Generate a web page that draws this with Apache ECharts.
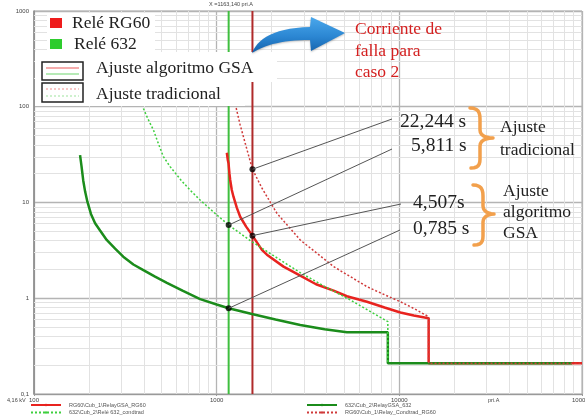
<!DOCTYPE html>
<html>
<head>
<meta charset="utf-8">
<script src="https://cdn.jsdelivr.net/npm/echarts@6/dist/echarts.min.js"></script>
<style>
html, body { margin: 0; padding: 0; background: #fff; }
#chart { width: 585px; height: 416px; }
</style>
</head>
<body>
<div id="chart"></div>
<script>
// Time-current coordination curves (pri.A vs seconds), log-log.

// Fault currents seen by each relay (pri.A)
const faultCurrent632 = 1163.14;
const faultCurrentRG60 = 1570;

// Relay RG60, GSA-tuned setting: [current pri.A, time s]
const rg60Gsa = [
  [1137, 33.1], [1150, 28], [1161, 25.7], [1175, 20], [1186, 17.2], [1210, 13.5],
  [1236, 11.5], [1290, 8.8], [1345, 7.1], [1450, 5.6], [1570, 4.507], [1769, 3.2],
  [1884, 2.85], [2323, 2.14], [2868, 1.72], [3500, 1.4], [4365, 1.2], [5164, 1.05],
  [6650, 0.92], [8300, 0.8], [10130, 0.71], [12000, 0.66], [14470, 0.617],
  [14470, 0.209], [100000, 0.209]
];

// Relay 632, GSA-tuned setting
const r632Gsa = [
  [178.7, 31.3], [182, 24], [186, 17], [190.5, 13], [196, 10.2], [205, 7.6],
  [216, 6.07], [230, 5.1], [250, 4.06], [278, 3.3], [308, 2.72], [350, 2.25],
  [397, 1.97], [460, 1.68], [534, 1.45], [650, 1.2], [812, 0.98], [1000, 0.86],
  [1163.14, 0.785], [1560, 0.685], [2100, 0.6], [2868, 0.526], [3900, 0.475],
  [5164, 0.441], [8650, 0.441], [8650, 0.209], [88300, 0.209]
];

// Relay 632, traditional setting
const r632Trad = [
  [397, 96], [420, 75], [451, 57], [480, 41], [511, 30.1], [556, 23.7], [640, 17],
  [720, 13.3], [812, 10.6], [980, 7.7], [1163.14, 5.811], [1527, 4.0], [2100, 2.7],
  [2868, 1.85], [3900, 1.33], [5389, 0.96], [7000, 0.72], [8650, 0.57], [8650, 0.209]
];

// Relay RG60, traditional setting
const rg60Trad = [
  [1279, 97], [1345, 64.5], [1432, 41.8], [1570, 22.244], [1774, 14], [2138, 7.71],
  [2500, 5.48], [2868, 4.06], [3600, 2.87], [4365, 2.14], [5400, 1.68], [6650, 1.32],
  [8200, 1.1], [10130, 0.92], [12200, 0.77], [14470, 0.641], [14470, 0.209], [100000, 0.209]
];

// Operating points marked on the curves
const markCurrents = [faultCurrentRG60, faultCurrent632, faultCurrentRG60, faultCurrent632];
const markTimes = [22.244, 5.811, 4.507, 0.785];
const markLabels = ['22,244 s', '5,811 s', '4,507s', '0,785 s'];

const seriesNames = [
  'RG60\\Cub_1\\RelayGSA_RG60',
  '632\\Cub_2\\RelayGSA_632',
  '632\\Cub_2\\Relé 632_condtrad',
  'RG60\\Cub_1\\Relay_Condtrad_RG60'
];

const serif = '"Liberation Serif", "Times New Roman", serif';
const sans = '"Liberation Sans", Arial, sans-serif';

function minorValues(from, to) {
  const out = [];
  for (let d = from; d < to; d *= 10) {
    for (let k = 2; k <= 9; k++) out.push(+(d * k).toPrecision(3));
  }
  return out;
}
const xMinor = minorValues(100, 100000);
const yMinor = minorValues(0.1, 1000);

const chart = echarts.init(document.getElementById('chart'), null, { renderer: 'canvas' });

const legendCommon = {
  padding: 0, itemGap: 0, itemWidth: 30, itemHeight: 3, selectedMode: false,
  textStyle: { fontSize: 5.5, color: '#555', fontFamily: sans, padding: [0, 0, 0, 3] }
};

const option = {
  animation: false,
  backgroundColor: '#fff',
  grid: {
    left: 34, right: 3, top: 11, bottom: 22, containLabel: false, outerBoundsMode: 'none',
    show: true, borderColor: '#aaa', borderWidth: 1, backgroundColor: '#fff'
  },
  xAxis: {
    type: 'log', logBase: 10, min: 100, max: 100000,
    axisLine: { show: true, lineStyle: { color: '#999', width: 1.2 } },
    axisTick: { show: true, length: 2, lineStyle: { color: '#999' } },
    axisLabel: { fontSize: 6, color: '#444', fontFamily: sans, margin: 3, formatter: v => String(v) },
    splitLine: { show: true, lineStyle: { color: '#b4b4b4', width: 1.3 } }
  },
  yAxis: {
    type: 'log', logBase: 10, min: 0.1, max: 1000,
    axisLine: { show: true, lineStyle: { color: '#888', width: 1.5 } },
    axisTick: { show: false },
    axisLabel: { fontSize: 6, color: '#444', fontFamily: sans, margin: 5, formatter: v => String(v).replace('.', ',') },
    splitLine: { show: true, lineStyle: { color: '#b4b4b4', width: 1.3 } }
  },
  legend: [
    Object.assign({ data: [seriesNames[0]], left: 30, top: 402 }, legendCommon),
    Object.assign({ data: [seriesNames[1]], left: 306, top: 402 }, legendCommon),
    Object.assign({ data: [seriesNames[2]], left: 30, top: 409.5 }, legendCommon),
    Object.assign({ data: [seriesNames[3]], left: 306, top: 409.5 }, legendCommon)
  ],
  series: [
    {
      // minor grid lines at 2..9 of each decade
      name: 'grid', type: 'line', data: [[100, 0.1]], symbol: 'none', silent: true, z: 1,
      lineStyle: { width: 0 },
      markLine: {
        silent: true, symbol: 'none', z: 1, animation: false,
        label: { show: false },
        lineStyle: { color: '#e2e2e2', width: 1, type: 'solid' },
        data: xMinor.map(v => ({ xAxis: v })).concat(yMinor.map(v => ({ yAxis: v })))
      }
    },
    {
      name: 'fault632', type: 'line', symbol: 'none', silent: true, z: 3,
      data: [[faultCurrent632, 0.1], [faultCurrent632, 1000]],
      lineStyle: { color: '#3fbf3f', width: 2 }
    },
    {
      name: 'faultRG60', type: 'line', symbol: 'none', silent: true, z: 3,
      data: [[faultCurrentRG60, 0.1], [faultCurrentRG60, 1000]],
      lineStyle: { color: '#b02a2a', width: 2 }
    },
    {
      name: seriesNames[0], type: 'line', symbol: 'none', z: 5, data: rg60Gsa,
      color: '#e8231f', lineStyle: { color: '#e8231f', width: 2.5 }
    },
    {
      name: seriesNames[1], type: 'line', symbol: 'none', z: 6, data: r632Gsa,
      color: '#1b8c1b', lineStyle: { color: '#1b8c1b', width: 2.5 }
    },
    {
      name: seriesNames[2], type: 'line', symbol: 'none', z: 7, data: r632Trad,
      color: '#3ecf3e', lineStyle: { color: '#3ecf3e', width: 1.5, type: [2, 2] }
    },
    {
      name: seriesNames[3], type: 'line', symbol: 'none', z: 7, data: rg60Trad,
      color: '#d03a3a', lineStyle: { color: '#d03a3a', width: 1.5, type: [2, 2] }
    },
    {
      name: 'marks', type: 'scatter', z: 10, symbolSize: 6, silent: true,
      itemStyle: { color: '#000' },
      data: markCurrents.map((c, i) => [c, markTimes[i]])
    }
  ]
};
chart.setOption(option);

// Annotations: relay key, fault-current arrow and value callouts
const Z = 100;
const g = [];
const rect = (x, y, w, h, style) => g.push({ type: 'rect', z: Z, shape: { x, y, width: w, height: h }, style });
const text = (t, x, y, font, fill, align) => g.push({
  type: 'text', z: Z + 1, x, y,
  style: { text: t, font, fill, textAlign: align || 'left', textVerticalAlign: 'middle' }
});
const line = (x1, y1, x2, y2, stroke, w, dash) => g.push({
  type: 'line', z: Z + 2, shape: { x1, y1, x2, y2 },
  style: { stroke, lineWidth: w, lineDash: dash || null }
});
// sample a cubic Bezier into points (start point excluded)
function bez(p0, p1, p2, p3, n) {
  const pts = [];
  for (let i = 1; i <= n; i++) {
    const t = i / n, u = 1 - t;
    pts.push([
      u * u * u * p0[0] + 3 * u * u * t * p1[0] + 3 * u * t * t * p2[0] + t * t * t * p3[0],
      u * u * u * p0[1] + 3 * u * u * t * p1[1] + 3 * u * t * t * p2[1] + t * t * t * p3[1]
    ]);
  }
  return pts;
}

// white panels behind the relay key
rect(47, 13, 108, 39, { fill: '#fff' });
rect(35, 52, 242, 30, { fill: '#fff' });
rect(35, 82, 210, 24, { fill: '#fff' });

rect(50, 18, 12, 10, { fill: '#ee1c1c' });
rect(50, 39, 12, 10, { fill: '#2ecc2e' });
text('Relé RG60', 72, 23.5, '17.5px ' + serif, '#222');
text('Relé 632', 74, 44.5, '17.5px ' + serif, '#222');

rect(42, 62, 41, 18, { fill: '#fff', stroke: '#222', lineWidth: 1.5 });
line(46, 68, 79, 68, '#f29090', 1.5);
line(46, 74, 79, 74, '#9ee39e', 1.5);
rect(42, 83, 41, 19, { fill: '#fff', stroke: '#222', lineWidth: 1.5 });
line(46, 89, 79, 89, '#f29090', 1.2, [2, 2]);
line(46, 96, 79, 96, '#9ee39e', 1.2, [2, 2]);
text('Ajuste algoritmo GSA', 96, 68.5, '17.5px ' + serif, '#222');
text('Ajuste tradicional', 96, 94, '17.5px ' + serif, '#222');

// fault current arrow
const arrowPts = [[252, 53]]
  .concat(bez([252, 53], [258, 38], [275, 28], [310, 27], 14))
  .concat([[311, 17], [345, 33], [311, 51], [310, 40]])
  .concat(bez([310, 40], [285, 40], [266, 44], [252, 53], 14));
g.push({
  type: 'polygon', z: Z, shape: { points: arrowPts },
  style: {
    fill: {
      type: 'linear', x: 0, y: 0, x2: 0, y2: 1,
      colorStops: [
        { offset: 0, color: '#4aa8ec' }, { offset: 0.55, color: '#2b86d2' }, { offset: 1, color: '#1461ab' }
      ]
    },
    shadowBlur: 2, shadowColor: 'rgba(0,0,0,0.25)', shadowOffsetY: 1
  }
});
text('Corriente de', 355, 29, '17.5px ' + serif, '#d42020');
text('falla para', 355, 51, '17.5px ' + serif, '#d42020');
text('caso 2', 355, 72, '17.5px ' + serif, '#d42020');

text('X =1163,140 pri.A', 231, 4.5, '5.5px ' + sans, '#444', 'center');
text('4,16 kV', 7, 400, '5.5px ' + sans, '#444');
text('pri.A', 488, 400, '5.5px ' + sans, '#444');

// value callouts with leader lines
const labelAnchors = [[392, 119], [392, 149], [401, 204], [400, 230]];
const labelPos = [[400, 121.5], [411, 145.5], [413, 202.5], [413, 228.5]];
markCurrents.forEach((c, i) => {
  const p = chart.convertToPixel({ gridIndex: 0 }, [c, markTimes[i]]);
  line(p[0], p[1], labelAnchors[i][0], labelAnchors[i][1], '#555', 1);
  text(markLabels[i], labelPos[i][0], labelPos[i][1], '19.5px ' + serif, '#222');
});

// braces grouping the callouts
function brace(x0, xs, xt, yTop, yMid, yBot) {
  return [[x0, yTop]]
    .concat(bez([x0, yTop], [x0 + 8, yTop], [xs, yTop + 4], [xs, yTop + 11], 6))
    .concat([[xs, yMid - 8]])
    .concat(bez([xs, yMid - 8], [xs, yMid - 3], [xs + 5, yMid], [xt, yMid], 6))
    .concat(bez([xt, yMid], [xs + 5, yMid], [xs, yMid + 3], [xs, yMid + 8], 6))
    .concat([[xs, yBot - 9]])
    .concat(bez([xs, yBot - 9], [xs, yBot - 3], [xs - 2, yBot], [x0 + 1, yBot], 6));
}
const braceStyle = { stroke: '#f2a04c', lineWidth: 3.5, fill: null, lineCap: 'round', lineJoin: 'round' };
g.push({ type: 'polyline', z: Z, shape: { points: brace(470, 480, 493, 108, 138, 168) }, style: braceStyle });
g.push({ type: 'polyline', z: Z, shape: { points: brace(473, 483, 494, 185, 214, 245) }, style: braceStyle });
text('Ajuste', 500, 127.5, '17.5px ' + serif, '#222');
text('tradicional', 500, 150, '17.5px ' + serif, '#222');
text('Ajuste', 503, 191, '17.5px ' + serif, '#222');
text('algoritmo', 503, 212.5, '17.5px ' + serif, '#222');
text('GSA', 503, 233, '17.5px ' + serif, '#222');

chart.setOption({ graphic: { elements: g } });
</script>
</body>
</html>
